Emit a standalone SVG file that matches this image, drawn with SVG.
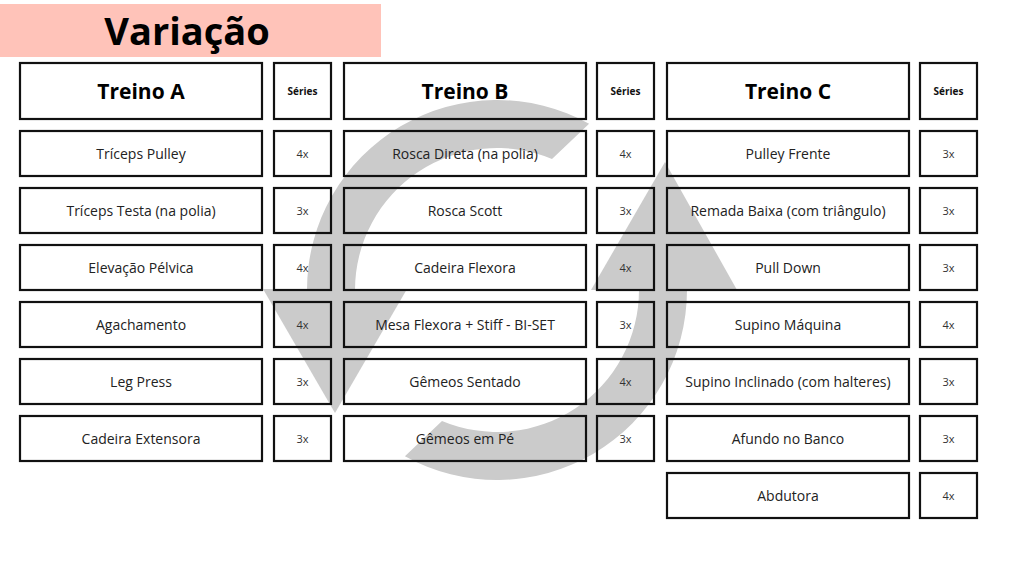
<svg xmlns="http://www.w3.org/2000/svg" width="1024" height="576" viewBox="0 0 1024 576">
<style>
.box{fill:none;stroke:#111;stroke-width:2.2}
.h{font-family:"Open Sans","Liberation Sans",sans-serif;font-weight:bold;font-size:21px;fill:#000;text-anchor:middle}
.s{font-family:"Open Sans","Liberation Sans",sans-serif;font-weight:bold;font-size:10px;fill:#111;text-anchor:middle}
.t{font-family:"Open Sans","Liberation Sans",sans-serif;font-size:14px;fill:#222;text-anchor:middle}
.n{font-family:"Open Sans","Liberation Sans",sans-serif;font-size:11px;fill:#333;text-anchor:middle}
.g{fill:#cbcbcb}
</style>
<rect width="1024" height="576" fill="#fff"/>
<g id="cycle">
<path class="g" d="M589.1,123.8 A190,190 0 0 0 307,290 L355,290 A142,142 0 0 1 552,159.1 Z"/>
<polygon class="g" points="263,289 407,289 335,413"/>
<path class="g" d="M404.9,456.2 A190,190 0 0 0 687,290 L639,290 A142,142 0 0 1 442,420.9 Z"/>
<polygon class="g" points="591,290 737,290 665,162"/>
</g>
<g id="title">
<rect x="0" y="4" width="381" height="53" fill="#ffc3b9"/>
<text x="187" y="45" font-family="'Open Sans','Liberation Sans',sans-serif" font-weight="bold" font-size="38" text-anchor="middle" fill="#000">Variação</text>
</g>
<g id="colA">
<g id="A-h"><rect class="box" x="20" y="63" width="242" height="56"/><text class="h" x="141" y="99">Treino A</text></g>
<g id="A-hs"><rect class="box" x="274" y="63" width="57" height="56"/><text class="s" x="302.5" y="95">Séries</text></g>
<g id="A1"><rect class="box" x="20" y="131" width="242" height="45"/><text class="t" x="141" y="159">Tríceps Pulley</text><rect class="box" x="274" y="131" width="57" height="45"/><text class="n" x="302.5" y="158">4x</text></g>
<g id="A2"><rect class="box" x="20" y="188" width="242" height="45"/><text class="t" x="141" y="216">Tríceps Testa (na polia)</text><rect class="box" x="274" y="188" width="57" height="45"/><text class="n" x="302.5" y="215">3x</text></g>
<g id="A3"><rect class="box" x="20" y="245" width="242" height="45"/><text class="t" x="141" y="273">Elevação Pélvica</text><rect class="box" x="274" y="245" width="57" height="45"/><text class="n" x="302.5" y="272">4x</text></g>
<g id="A4"><rect class="box" x="20" y="302" width="242" height="45"/><text class="t" x="141" y="330">Agachamento</text><rect class="box" x="274" y="302" width="57" height="45"/><text class="n" x="302.5" y="329">4x</text></g>
<g id="A5"><rect class="box" x="20" y="359" width="242" height="45"/><text class="t" x="141" y="387">Leg Press</text><rect class="box" x="274" y="359" width="57" height="45"/><text class="n" x="302.5" y="386">3x</text></g>
<g id="A6"><rect class="box" x="20" y="416" width="242" height="45"/><text class="t" x="141" y="444">Cadeira Extensora</text><rect class="box" x="274" y="416" width="57" height="45"/><text class="n" x="302.5" y="443">3x</text></g>
</g>
<g id="colB">
<g id="B-h"><rect class="box" x="344" y="63" width="242" height="56"/><text class="h" x="465" y="99">Treino B</text></g>
<g id="B-hs"><rect class="box" x="597" y="63" width="57" height="56"/><text class="s" x="625.5" y="95">Séries</text></g>
<g id="B1"><rect class="box" x="344" y="131" width="242" height="45"/><text class="t" x="465" y="159">Rosca Direta (na polia)</text><rect class="box" x="597" y="131" width="57" height="45"/><text class="n" x="625.5" y="158">4x</text></g>
<g id="B2"><rect class="box" x="344" y="188" width="242" height="45"/><text class="t" x="465" y="216">Rosca Scott</text><rect class="box" x="597" y="188" width="57" height="45"/><text class="n" x="625.5" y="215">3x</text></g>
<g id="B3"><rect class="box" x="344" y="245" width="242" height="45"/><text class="t" x="465" y="273">Cadeira Flexora</text><rect class="box" x="597" y="245" width="57" height="45"/><text class="n" x="625.5" y="272">4x</text></g>
<g id="B4"><rect class="box" x="344" y="302" width="242" height="45"/><text class="t" x="465" y="330">Mesa Flexora + Stiff - BI-SET</text><rect class="box" x="597" y="302" width="57" height="45"/><text class="n" x="625.5" y="329">3x</text></g>
<g id="B5"><rect class="box" x="344" y="359" width="242" height="45"/><text class="t" x="465" y="387">Gêmeos Sentado</text><rect class="box" x="597" y="359" width="57" height="45"/><text class="n" x="625.5" y="386">4x</text></g>
<g id="B6"><rect class="box" x="344" y="416" width="242" height="45"/><text class="t" x="465" y="444">Gêmeos em Pé</text><rect class="box" x="597" y="416" width="57" height="45"/><text class="n" x="625.5" y="443">3x</text></g>
</g>
<g id="colC">
<g id="C-h"><rect class="box" x="667" y="63" width="242" height="56"/><text class="h" x="788" y="99">Treino C</text></g>
<g id="C-hs"><rect class="box" x="920" y="63" width="57" height="56"/><text class="s" x="948.5" y="95">Séries</text></g>
<g id="C1"><rect class="box" x="667" y="131" width="242" height="45"/><text class="t" x="788" y="159">Pulley Frente</text><rect class="box" x="920" y="131" width="57" height="45"/><text class="n" x="948.5" y="158">3x</text></g>
<g id="C2"><rect class="box" x="667" y="188" width="242" height="45"/><text class="t" x="788" y="216">Remada Baixa (com triângulo)</text><rect class="box" x="920" y="188" width="57" height="45"/><text class="n" x="948.5" y="215">3x</text></g>
<g id="C3"><rect class="box" x="667" y="245" width="242" height="45"/><text class="t" x="788" y="273">Pull Down</text><rect class="box" x="920" y="245" width="57" height="45"/><text class="n" x="948.5" y="272">3x</text></g>
<g id="C4"><rect class="box" x="667" y="302" width="242" height="45"/><text class="t" x="788" y="330">Supino Máquina</text><rect class="box" x="920" y="302" width="57" height="45"/><text class="n" x="948.5" y="329">4x</text></g>
<g id="C5"><rect class="box" x="667" y="359" width="242" height="45"/><text class="t" x="788" y="387">Supino Inclinado (com halteres)</text><rect class="box" x="920" y="359" width="57" height="45"/><text class="n" x="948.5" y="386">3x</text></g>
<g id="C6"><rect class="box" x="667" y="416" width="242" height="45"/><text class="t" x="788" y="444">Afundo no Banco</text><rect class="box" x="920" y="416" width="57" height="45"/><text class="n" x="948.5" y="443">3x</text></g>
<g id="C7"><rect class="box" x="667" y="473" width="242" height="45"/><text class="t" x="788" y="501">Abdutora</text><rect class="box" x="920" y="473" width="57" height="45"/><text class="n" x="948.5" y="500">4x</text></g>
</g>
</svg>
